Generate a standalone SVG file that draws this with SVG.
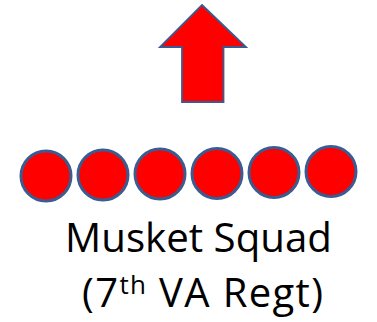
<svg xmlns="http://www.w3.org/2000/svg" width="377" height="322" viewBox="0 0 377 322">
  <style>
    .arrow { fill: #FF0000; stroke: #3A5B91; stroke-width: 1.8; stroke-linejoin: miter; }
    .man { fill: #FF0000; stroke: #3A5B91; stroke-width: 3; }
    .label { font-family: "Open Sans", "Noto Sans", sans-serif; font-size: 40px; fill: #000000; text-anchor: middle; }
  </style>
  <defs>
    <filter id="soft" x="-10%" y="-10%" width="120%" height="120%">
      <feGaussianBlur stdDeviation="0.6"/>
    </filter>
  </defs>
  <rect width="377" height="322" fill="#FFFFFF"/>
  <g id="advance-arrow">
    <polygon class="arrow" points="202,5 246,47 223.5,47 223.5,102 182,102 182,47 160,47"/>
  </g>
  <g id="squad" filter="url(#soft)">
    <circle class="man" cx="46" cy="176" r="25"/>
    <circle class="man" cx="103" cy="175" r="25"/>
    <circle class="man" cx="160" cy="174" r="25"/>
    <circle class="man" cx="217" cy="173.5" r="25"/>
    <circle class="man" cx="274" cy="172.5" r="25"/>
    <circle class="man" cx="331" cy="171.5" r="25"/>
  </g>
  <g id="caption">
    <text class="label" x="198.5" y="252" textLength="267" lengthAdjust="spacingAndGlyphs">Musket Squad</text>
    <text class="label" x="202.5" y="306.5" textLength="241" lengthAdjust="spacing">(7<tspan font-size="26" dy="-13">th</tspan><tspan dy="13"> VA Regt)</tspan></text>
  </g>
</svg>
